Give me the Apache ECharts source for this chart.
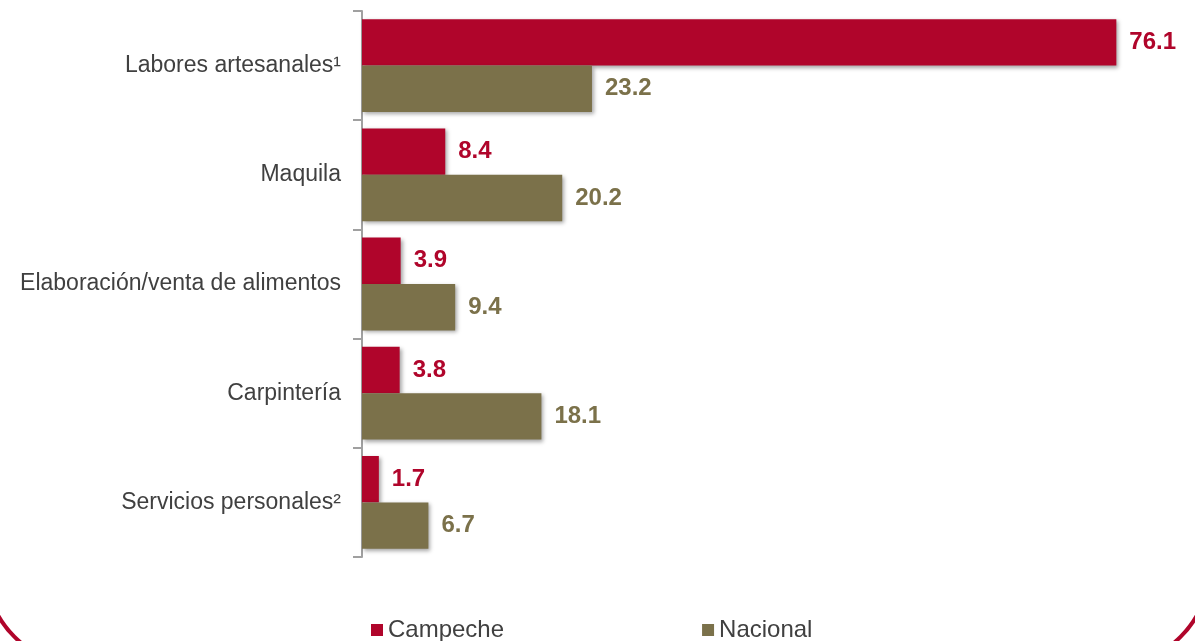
<!DOCTYPE html>
<html>
<head>
<meta charset="utf-8">
<script src="https://cdn.jsdelivr.net/npm/echarts@6/dist/echarts.min.js"></script>
<style>
  html, body { margin: 0; padding: 0; background: #fff; }
  #chart { width: 1195px; height: 641px; }
</style>
</head>
<body>
<div id="chart"></div>
<script>
var categories = [
  "Labores artesanales\u00b9",
  "Maquila",
  "Elaboración/venta de alimentos",
  "Carpintería",
  "Servicios personales\u00b2"
];
var campeche = [76.1, 8.4, 3.9, 3.8, 1.7];
var nacional = [23.2, 20.2, 9.4, 18.1, 6.7];

var RED = "#b0052b";
var OLIVE = "#7b714a";

var myChart = echarts.init(document.getElementById("chart"));

var shadow = {
  shadowColor: "rgba(0,0,0,0.35)",
  shadowBlur: 4,
  shadowOffsetX: 2,
  shadowOffsetY: 2
};

var option = {
  animation: false,
  textStyle: { fontFamily: "Liberation Sans, Arial, sans-serif" },
  grid: { left: 362, right: 40, top: 11, bottom: 84, containLabel: false },
  xAxis: {
    type: "value",
    min: 0,
    max: 80,
    show: false
  },
  yAxis: {
    type: "category",
    inverse: true,
    data: categories,
    axisLine: { show: true, lineStyle: { color: "#a0a0a0", width: 2 } },
    axisTick: { show: true, length: 9, lineStyle: { color: "#a0a0a0", width: 2 } },
    axisLabel: { color: "#404040", fontSize: 23, margin: 21 }
  },
  legend: {
    left: 366,
    top: 613,
    icon: "rect",
    itemWidth: 12,
    itemHeight: 12,
    itemGap: 198,
    textStyle: { color: "#404040", fontSize: 24 },
    data: ["Campeche", "Nacional"]
  },
  series: [
    {
      name: "Campeche",
      type: "bar",
      data: campeche,
      barGap: "0%",
      barCategoryGap: "15%",
      itemStyle: Object.assign({ color: RED }, shadow),
      label: {
        show: true,
        position: "right",
        distance: 13,
        color: RED,
        fontWeight: "bold",
        fontSize: 24,
        formatter: function (p) { return p.value.toFixed(1); }
      }
    },
    {
      name: "Nacional",
      type: "bar",
      data: nacional,
      barGap: "0%",
      barCategoryGap: "15%",
      itemStyle: Object.assign({ color: OLIVE }, shadow),
      label: {
        show: true,
        position: "right",
        distance: 13,
        color: OLIVE,
        fontWeight: "bold",
        fontSize: 24,
        formatter: function (p) { return p.value.toFixed(1); }
      }
    }
  ],
  graphic: [
    {
      type: "rect",
      silent: true,
      z: 100,
      shape: { x: -15, y: -300, width: 1225, height: 966, r: 100 },
      style: { fill: "none", stroke: RED, lineWidth: 4 }
    }
  ]
};

myChart.setOption(option);
</script>
</body>
</html>
